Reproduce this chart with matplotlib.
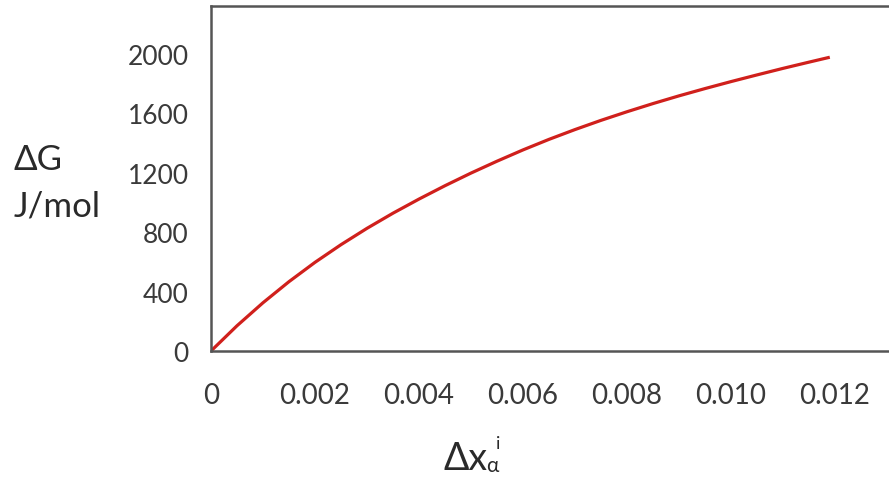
import matplotlib
matplotlib.use("Agg")
import matplotlib.pyplot as plt

# Data
dx = [0, 0.0005, 0.001, 0.0015, 0.002, 0.0025, 0.003, 0.0035, 0.004, 0.0045,
      0.005, 0.0055, 0.006, 0.0065, 0.007, 0.0075, 0.008, 0.0085, 0.009,
      0.0095, 0.010, 0.0105, 0.011, 0.0115, 0.0119]
dG = [0, 170, 325, 467, 597, 716, 826, 928, 1023, 1113,
      1198, 1278, 1354, 1425, 1491, 1553, 1611, 1666, 1718,
      1767, 1814, 1859, 1903, 1945, 1978]

xticks = [0, 0.002, 0.004, 0.006, 0.008, 0.010, 0.012]
xticklabels = ["0", "0.002", "0.004", "0.006", "0.008", "0.010", "0.012"]
yticks = [0, 400, 800, 1200, 1600, 2000]
yticklabels = ["0", "400", "800", "1200", "1600", "2000"]

plt.rcParams['font.family'] = ['Lato', 'DejaVu Sans']

W, H = 889, 485
fig = plt.figure(figsize=(W / 100, H / 100), dpi=100)
fig.patch.set_facecolor("white")

def fx(px):
    return px / W

def fy(py):
    return 1 - py / H

left, right, top, bottom = 211, 892.2, 7, 352
ax = fig.add_axes([fx(left), fy(bottom), fx(right) - fx(left), fy(top) - fy(bottom)])

ax.plot(dx, dG, color="#d0201c", lw=2.3, solid_capstyle="butt",
        solid_joinstyle="round")

ax.set_xlim(0, 0.0131)
ax.set_ylim(0, 2323)
ax.set_xticks(xticks)
ax.set_xticklabels(xticklabels)
ax.set_yticks(yticks)
ax.set_yticklabels(yticklabels)

ax.tick_params(axis="both", length=0, labelsize=19, colors="#3a3a3a")
ax.tick_params(axis="x", pad=22, labelsize=20)
ax.tick_params(axis="y", pad=16)

for s in ax.spines.values():
    s.set_color("#555555")
    s.set_linewidth(1.8)
ax.spines["right"].set_visible(False)

# Y label
fig.text(fx(14), fy(160), "ΔG", fontsize=25, color="#2a2a2a", ha="left", va="center")
fig.text(fx(14), fy(206), "J/mol", fontsize=25, color="#2a2a2a", ha="left", va="center")

# X label: Δx with subscript alpha and superscript i
fig.text(fx(443), fy(470), "Δx", fontsize=27, color="#2a2a2a", ha="left", va="baseline")
fig.text(fx(486), fy(472), "α", fontsize=15, color="#2a2a2a", ha="left", va="baseline")
fig.text(fx(496), fy(449), "i", fontsize=13, color="#2a2a2a", ha="left", va="baseline")

fig.savefig("out.png", dpi=100)
